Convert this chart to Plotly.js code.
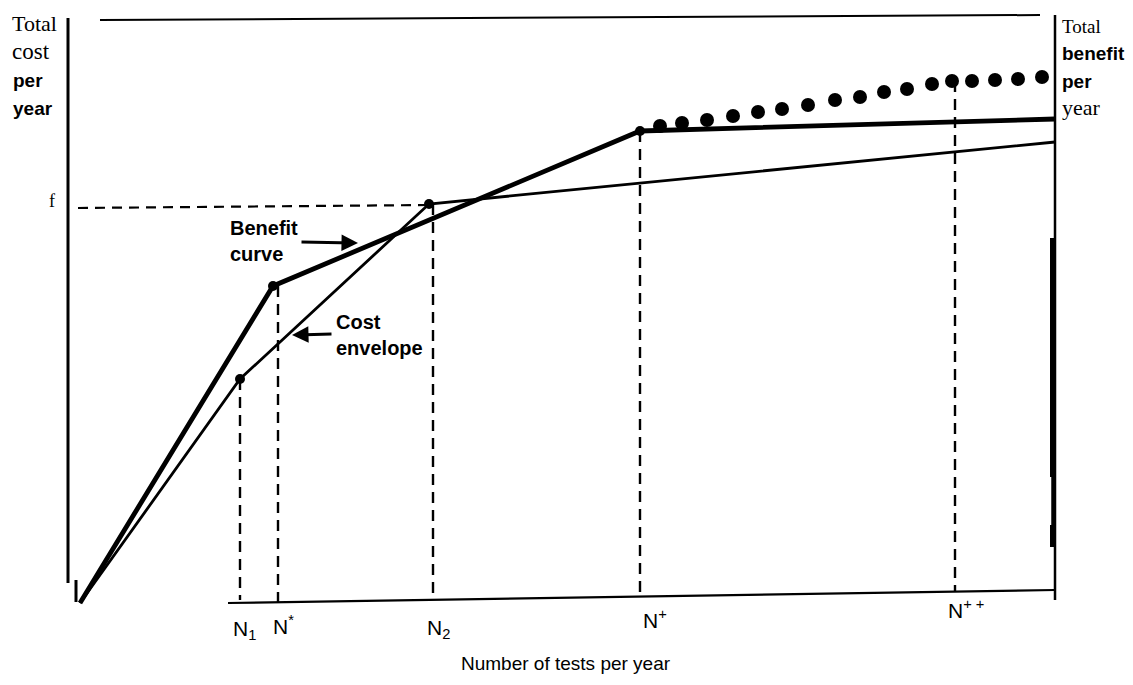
<!DOCTYPE html>
<html>
<head>
<meta charset="utf-8">
<script src="https://cdn.plot.ly/plotly-3.0.1.min.js"></script>
<style>html,body{margin:0;padding:0;background:#fff;}#chart{width:1133px;height:685px;}</style>
</head>
<body>
<div id="chart"></div>
<script>
// Schematic values (arbitrary units: x = tests per year, y = dollars per year)
const benefitX = [80, 273, 640, 1055];
const benefitY = [82, 399, 554, 566];
const costX = [80, 240, 429, 1055];
const costY = [82, 306, 481, 543];
const kneeX = [273, 640, 240, 429];
const kneeY = [399, 554, 306, 481];
const potentialX = [660, 682, 707, 733, 758, 782, 808, 835, 860, 884, 907, 932, 952, 972, 995, 1018, 1042];
const potentialY = [559, 562, 565, 569, 573, 576, 580, 585, 588, 593, 596, 601, 604, 604, 605, 606, 608];
const tickNames = ['N<sub>1</sub>', 'N<sup>*</sup>', 'N<sub>2</sub>', 'N<sup>+</sup>', 'N<sup>+ +</sup>'];
const tickX = [240, 278, 433, 640, 955];
const tickTopY = [306, 399, 481, 554, 604];
const tickBaseY = [85, 83, 87, 88, 93];
const fLevelX = [78, 429];
const fLevelY = [477, 480];
const baselineX = [228, 1055];
const baselineY = [82, 95];
const topLineX = [100, 1040];
const topLineY = [665, 670];

const black = '#000';
const vx = [], vy = [];
tickX.forEach((x, i) => { vx.push(x, x, null); vy.push(tickTopY[i], tickBaseY[i], null); });

const traces = [
  {x: topLineX, y: topLineY, mode: 'lines', line: {color: black, width: 2}},
  {x: baselineX, y: baselineY, mode: 'lines', line: {color: black, width: 2.2}},
  {x: [68, 68, null, 76, 76], y: [667, 102, null, 105, 83], mode: 'lines', line: {color: black, width: 3}},
  {x: [1055, 1055], y: [670, 85], mode: 'lines', line: {color: black, width: 2.5}},
  {x: [1053, 1053, null, 1053, 1053], y: [447, 208, null, 160, 138], mode: 'lines', line: {color: black, width: 6}},
  {x: [1053, 1053], y: [210, 158], mode: 'lines', line: {color: black, width: 3.5}},
  {x: fLevelX, y: fLevelY, mode: 'lines', line: {color: black, width: 2.2, dash: '10px,7px'}},
  {x: vx, y: vy, mode: 'lines', line: {color: black, width: 2.4, dash: '11px,7px'}},
  {x: costX, y: costY, mode: 'lines', line: {color: black, width: 2.8}},
  {x: benefitX, y: benefitY, mode: 'lines', line: {color: black, width: 4.8}},
  {x: kneeX, y: kneeY, mode: 'markers', marker: {color: black, size: 10}},
  {x: potentialX, y: potentialY, mode: 'markers', marker: {color: black, size: 14}}
];

const serif = 'Liberation Serif, Times New Roman, serif';
const sans = 'Liberation Sans, Arial, sans-serif';
function txt(text, x, y, size, family, anchor, extra) {
  return Object.assign({text: text, x: x, y: y, xref: 'x', yref: 'y', showarrow: false,
    xanchor: anchor || 'left', yanchor: 'middle', font: {family: family, size: size, color: black}}, extra || {});
}
const ann = [
  txt('Total', 10, 662, 22, serif),
  txt('cost', 10, 634, 23, serif),
  txt('<b>per</b>', 11, 605, 19, sans),
  txt('<b>year</b>', 11, 577, 19, sans),
  txt('f', 47, 484, 18, serif),
  txt('Total', 1060, 659, 19, serif),
  txt('<b>benefit</b>', 1060, 632, 19, sans),
  txt('<b>per</b>', 1060, 604, 19, sans),
  txt('year', 1060, 578, 22, serif),
  txt('<b>Benefit</b>', 228, 457, 20, sans),
  txt('<b>curve</b>', 228, 431, 20, sans),
  txt('<b>Cost</b>', 334, 363, 20, sans),
  txt('<b>envelope</b>', 334, 337, 20, sans),
  txt('Number of tests per year', 566, 22, 19, sans, 'center'),
  {x: 358, y: 442, ax: 300, ay: 443, xref: 'x', yref: 'y', axref: 'x', ayref: 'y', text: '', showarrow: true,
   arrowhead: 2, arrowsize: 1.1, arrowwidth: 3, arrowcolor: black},
  {x: 292, y: 350, ax: 333, ay: 351, xref: 'x', yref: 'y', axref: 'x', ayref: 'y', text: '', showarrow: true,
   arrowhead: 2, arrowsize: 1.1, arrowwidth: 3, arrowcolor: black}
];
const labelX = [231, 271, 425, 641, 946];
const labelY = [55, 60, 56, 66, 76];
tickNames.forEach((t, i) => ann.push(txt(t, labelX[i], labelY[i], 21, sans, 'left')));

const layout = {
  width: 1133, height: 685,
  margin: {l: 0, r: 0, t: 0, b: 0},
  paper_bgcolor: '#fff', plot_bgcolor: '#fff',
  showlegend: false,
  xaxis: {range: [0, 1133], visible: false, fixedrange: true},
  yaxis: {range: [0, 685], visible: false, fixedrange: true},
  annotations: ann
};
Plotly.newPlot('chart', traces, layout, {staticPlot: true});
</script>
</body>
</html>
